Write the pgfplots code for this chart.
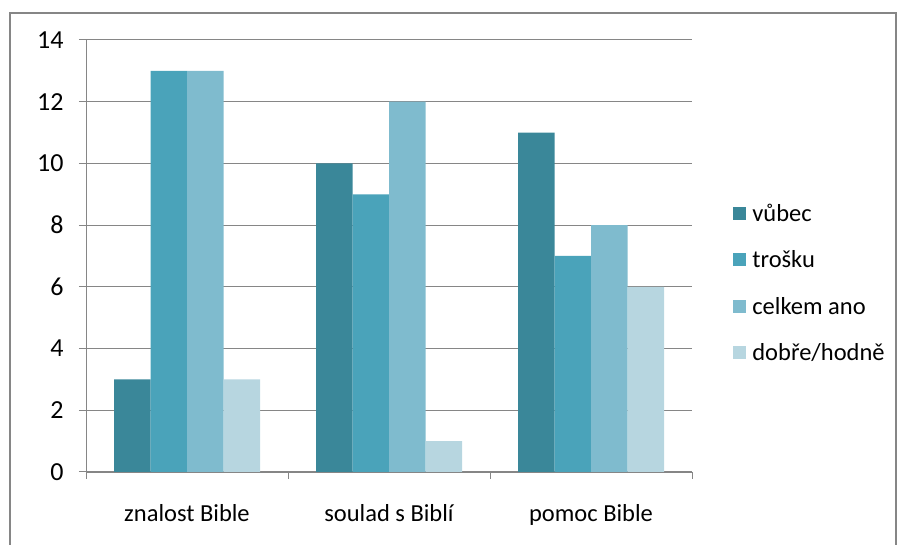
\documentclass[border=0pt]{standalone}
\usepackage{fontspec}
\setmainfont{Carlito}
\usepackage{pgfplots}
\pgfplotsset{compat=1.18}
\definecolor{gridgray}{HTML}{868686}
\definecolor{cA}{HTML}{3A8799}
\definecolor{cB}{HTML}{4AA3BA}
\definecolor{cC}{HTML}{7FBBCE}
\definecolor{cD}{HTML}{B7D6E0}
\newcommand{\chartfont}{\fontsize{24.5}{29}\selectfont}
\newcommand{\tickfont}{\fontsize{26}{30}\selectfont}
\pgfplotsset{
  sq legend/.style={legend image code/.code={\fill[##1] (0pt,-6.5pt) rectangle (13pt,6.5pt);}},
}
\begin{document}
\begin{tikzpicture}[x=1pt,y=1pt]
\useasboundingbox (0,0) rectangle (899,545);
\draw[gridgray, line width=2pt] (10,-10) rectangle (896,532);
\begin{axis}[
  at={(86pt,73pt)}, anchor=south west,
  scale only axis, width=606pt, height=432pt,
  ymin=0, ymax=14, ytick={0,2,...,14},
  xmin=-0.5, xmax=2.5,
  ybar=0pt, bar width=36.5pt,
  axis x line=bottom, axis y line=left,
  axis line style={-, gridgray, line width=1pt},
  x axis line style={line width=2pt},
  ymajorgrids, grid style={gridgray, line width=1pt},
  tick align=outside, major tick length=7pt,
  tick style={gridgray, line width=1pt},
  xtick={0,1,2},
  xticklabels={znalost Bible, soulad s Biblí, pomoc Bible},
  xtick style={draw=none},
  extra x ticks={-0.5,0.5,1.5,2.5},
  extra x tick labels={},
  extra x tick style={xtick style={draw=gridgray}},
  ticklabel style={black},
  xticklabel style={font=\chartfont, yshift=-22pt},
  yticklabel style={font=\tickfont, xshift=-12pt},
  /pgf/number format/assume math mode=true,
  legend style={at={(1.063,0.4375)}, anchor=west, draw=none, fill=none,
    font=\chartfont, row sep=24pt},
  legend cell align=left,
]
\addplot[fill=cA, draw=none, sq legend] coordinates {(0,3) (1,10) (2,11)};
\addplot[fill=cB, draw=none, sq legend] coordinates {(0,13) (1,9) (2,7)};
\addplot[fill=cC, draw=none, sq legend] coordinates {(0,13) (1,12) (2,8)};
\addplot[fill=cD, draw=none, sq legend] coordinates {(0,3) (1,1) (2,6)};
\legend{\hspace{4pt}vůbec, \hspace{4pt}trošku, \hspace{4pt}celkem ano, \hspace{4pt}dobře/hodně}
\end{axis}
\end{tikzpicture}
\end{document}
